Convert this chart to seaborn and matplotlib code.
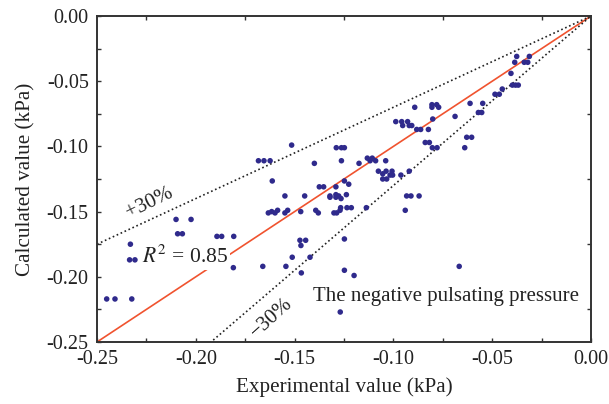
import numpy as np
import pandas as pd
import matplotlib
matplotlib.use("Agg")
import matplotlib.pyplot as plt
import seaborn as sns
from matplotlib.ticker import MultipleLocator, FormatStrFormatter

# Measured vs calculated negative pulsating pressure (kPa)
experimental = [
    -0.2451, -0.2409, -0.2324, -0.2331, -0.2335, -0.2308, -0.2245, -0.2100, -0.2024, -0.2092,
    -0.2068, -0.1893, -0.1869, -0.1808, -0.1844, -0.1810, -0.1683, -0.1655, -0.1624, -0.1515,
    -0.1400, -0.1289, -0.1263, -0.1248, -0.1263, -0.1613, -0.1549, -0.1449, -0.1375, -0.1353,
    -0.1291, -0.1248, -0.1226, -0.1321, -0.1321, -0.1291, -0.1291, -0.1277, -0.1265, -0.1238,
    -0.1633, -0.1616, -0.1599, -0.1586, -0.1549, -0.1535, -0.1469, -0.1393, -0.1380, -0.1301,
    -0.1287, -0.1270, -0.1267, -0.1235, -0.1661, -0.1544, -0.1473, -0.1444, -0.1468, -0.1512,
    -0.1422, -0.1466, -0.1248, -0.1248, -0.1199, -0.1269, -0.1213, -0.1137, -0.0933, -0.0911,
    -0.0870, -0.0940, -0.0667, -0.1174, -0.1132, -0.1107, -0.1118, -0.1090, -0.1039, -0.1076,
    -0.1037, -0.1007, -0.1054, -0.1017, -0.1004, -0.0962, -0.0920, -0.1054, -0.1034, -0.0892,
    -0.0805, -0.0781, -0.0805, -0.0771, -0.0801, -0.0988, -0.0958, -0.0928, -0.0953, -0.0920,
    -0.0907, -0.0882, -0.0862, -0.0823, -0.0839, -0.0818, -0.0803, -0.0779, -0.0688, -0.0629,
    -0.0604, -0.0639, -0.0612, -0.0548, -0.0570, -0.0553, -0.0486, -0.0464, -0.0449, -0.0398,
    -0.0382, -0.0368, -0.0405, -0.0386, -0.0338, -0.0320, -0.0376, -0.0312,
]
calculated = [
    -0.217, -0.217, -0.217, -0.175, -0.187, -0.187, -0.180, -0.156, -0.156, -0.167,
    -0.167, -0.169, -0.169, -0.169, -0.178, -0.193, -0.111, -0.111, -0.111, -0.099,
    -0.113, -0.101, -0.101, -0.101, -0.111, -0.1265, -0.138, -0.138, -0.131, -0.131,
    -0.131, -0.1265, -0.129, -0.138, -0.139, -0.137, -0.139, -0.138, -0.140, -0.137,
    -0.151, -0.150, -0.151, -0.149, -0.151, -0.149, -0.150, -0.149, -0.151, -0.151,
    -0.151, -0.149, -0.147, -0.147, -0.192, -0.192, -0.172, -0.172, -0.176, -0.185,
    -0.185, -0.197, -0.171, -0.195, -0.199, -0.227, -0.147, -0.147, -0.138, -0.138,
    -0.138, -0.149, -0.192, -0.113, -0.109, -0.109, -0.111, -0.111, -0.111, -0.119,
    -0.119, -0.119, -0.121, -0.122, -0.122, -0.122, -0.119, -0.125, -0.125, -0.070,
    -0.068, -0.068, -0.070, -0.070, -0.079, -0.081, -0.081, -0.081, -0.084, -0.084,
    -0.084, -0.087, -0.087, -0.087, -0.097, -0.097, -0.101, -0.101, -0.077, -0.093,
    -0.093, -0.101, -0.067, -0.067, -0.074, -0.074, -0.060, -0.060, -0.056, -0.053,
    -0.053, -0.053, -0.044, -0.0355, -0.0355, -0.0355, -0.031, -0.031,
]

# Perfect-agreement line and the +/-30 % error band
ref_range = np.array([-0.25, 0.0])
band_factors = [0.7, 1.3]

sns.set_style("white")
plt.rcParams["font.family"] = ["Liberation Serif", "DejaVu Serif"]
plt.rcParams["mathtext.fontset"] = "stix"

df = pd.DataFrame({"experimental": experimental, "calculated": calculated})

fig = plt.figure(figsize=(6.09, 4.04), dpi=100)
ax = fig.add_axes([97 / 609, 1 - 342 / 404, 494 / 609, 326 / 404])

ax.plot(ref_range, ref_range, color="#f0532f", lw=1.2, zorder=2)
for f in band_factors:
    ax.plot(ref_range, ref_range * f, color="#222222", lw=1.2,
            linestyle=(0, (1, 1.6)), zorder=2)

sns.scatterplot(data=df, x="experimental", y="calculated", ax=ax,
                color="#2f2a8c", s=16, edgecolor="none", zorder=3)

ax.set_xlim(-0.25, 0.0)
ax.set_ylim(-0.25, 0.0)

ax.xaxis.set_major_locator(MultipleLocator(0.05))
ax.xaxis.set_minor_locator(MultipleLocator(0.025))
ax.yaxis.set_major_locator(MultipleLocator(0.05))
ax.yaxis.set_minor_locator(MultipleLocator(0.025))
ax.xaxis.set_major_formatter(FormatStrFormatter("%.2f"))
ax.yaxis.set_major_formatter(FormatStrFormatter("%.2f"))

ax.tick_params(which="both", direction="in", length=3, width=1, color="#333333",
               labelsize=14.5, labelcolor="#222222")
ax.tick_params(which="major", top=False, right=False, bottom=True, left=True)
ax.tick_params(which="minor", top=True, right=True, bottom=True, left=True)
ax.tick_params(axis="x", which="major", pad=6)
ax.tick_params(axis="y", which="major", pad=6)

for sp in ax.spines.values():
    sp.set_color("#333333")
    sp.set_linewidth(1.4)

ax.set_xlabel("Experimental value (kPa)", fontsize=15.2, color="#222222", labelpad=6)
ax.set_ylabel("Calculated value (kPa)", fontsize=15.2, color="#222222", labelpad=8)

ax.text(-0.2232, -0.1434, "+30%", fontsize=15, color="#222222", rotation=26,
        ha="center", va="center", rotation_mode="anchor")
ax.text(-0.1619, -0.2316, "\u221230%", fontsize=15, color="#222222", rotation=42,
        ha="center", va="center", rotation_mode="anchor")
ax.text(-0.2057, -0.1848, "$R^2$ = 0.85", fontsize=15.5, color="#222222",
        ha="center", va="center",
        bbox=dict(facecolor="white", edgecolor="none", pad=1.5))
ax.text(-0.0061, -0.2186, "The negative pulsating pressure", fontsize=15,
        color="#222222", ha="right", va="baseline")

sns.despine(ax=ax, top=False, right=False)
fig.savefig("out.png", dpi=100)
